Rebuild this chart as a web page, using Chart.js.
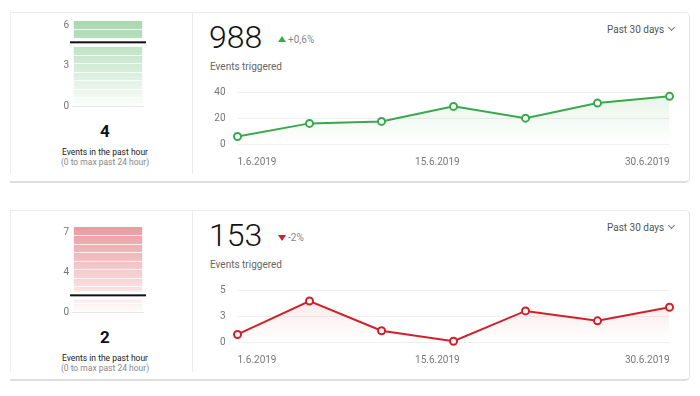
<!DOCTYPE html>
<html>
<head>
<meta charset="utf-8">
<script src="https://cdn.jsdelivr.net/npm/chart.js@4.4.1/dist/chart.umd.min.js"></script>
<style>
  body { margin:0; width:700px; height:396px; background:#fff; position:relative; overflow:hidden;
         font-family:Roboto, "Noto Sans", sans-serif; color:#222; }
  .card { position:absolute; left:10px; width:680px; height:171px; box-sizing:border-box;
          border-top:1px solid #ececec; border-right:1px solid #e4e4e4; border-bottom:2px solid #dedede;
          border-radius:0 5px 5px 0; }
  .vline { position:absolute; width:1px; height:162px; background:#ececec; }
  .now { position:absolute; left:10px; width:190px; text-align:center; font-size:17px; font-weight:700;
         line-height:20px; color:#111; }
  .cap { position:absolute; left:10px; width:190px; text-align:center; font-size:8.5px; line-height:10px;
         white-space:nowrap; }
  .total { position:absolute; left:209px; font-size:32px; font-weight:300; line-height:36px; color:#111; }
  .tri { position:absolute; width:0; height:0; border-left:4px solid transparent; border-right:4px solid transparent; }
  .delta { position:absolute; font-size:10px; line-height:12px; color:#888; }
  .sub { position:absolute; left:210px; font-size:10px; line-height:12px; color:#666; }
  .range { position:absolute; left:607px; font-size:10px; line-height:12px; color:#555; white-space:nowrap; }
  .chev { display:inline-block; width:4px; height:4px; border-right:1px solid #777; border-bottom:1px solid #777;
          transform:rotate(45deg); margin-left:5px; position:relative; top:-3px; }
  canvas { position:absolute; }
</style>
</head>
<body>
<script>
// ==== данные графиков ====
const dayLabels = ["1.6.2019", "", "", "15.6.2019", "", "", "30.6.2019"];
const eventsGreen = [6, 16, 17.5, 29, 20, 31.5, 36.7];
const eventsRed = [0.75, 3.95, 1.1, 0.1, 3.0, 2.05, 3.35];
const lineMax = [40, 5];
const totals = ["988", "153"];
const changes = ["+0,6%", "-2%"];
const hourNow = [4, 2];
const hourTickMax = [6, 7];
const hourPeak = [6.3, 7.45];
const hourMarker = [4.72, 1.46];

const series = [eventsGreen, eventsRed];
const palette = [[58, 168, 76], [209, 32, 42]];
const cardTop = [12, 210];      // верх карточки
const leftShift = [0, 206];     // смещение левой панели
const rightShift = [0, 198];    // смещение правой панели

Chart.defaults.font.family = "Roboto";

function rgba(rgb, a) {
  return `rgba(${rgb.join(",")},${a})`;
}

// Вертикальный градиент по области графика
function gradient(chart, rgb, a0, a1) {
  const area = chart.chartArea;
  if (!area) return rgba(rgb, a0);
  const g = chart.ctx.createLinearGradient(0, area.top, 0, area.bottom);
  g.addColorStop(0, rgba(rgb, a0));
  g.addColorStop(1, rgba(rgb, a1));
  return g;
}

function addEl(cls, css, text) {
  const el = document.createElement("div");
  el.className = cls;
  Object.assign(el.style, css);
  if (text !== undefined) el.textContent = text;
  document.body.appendChild(el);
  return el;
}

function addCanvas(left, top, w, h) {
  const c = document.createElement("canvas");
  c.width = w;
  c.height = h;
  c.style.left = left + "px";
  c.style.top = top + "px";
  document.body.appendChild(c);
  return c;
}

// Полоски на столбике и чёрная отметка текущего значения
function hourPlugin(i) {
  return {
    id: "hourMarker",
    afterDatasetsDraw(chart) {
      const ctx = chart.ctx;
      const bar = chart.getDatasetMeta(0).data[0];
      const left = bar.x - bar.width / 2;
      const h = bar.base - bar.y;
      const area = chart.chartArea;
      ctx.save();
      ctx.fillStyle = "rgba(255,255,255,0.8)";
      for (let k = 1; k < 10; k++) {
        ctx.fillRect(left, Math.round(bar.y + h * k / 10), bar.width, 1);
      }
      const y = chart.scales.y.getPixelForValue(hourMarker[i]);
      ctx.fillStyle = "#fff";
      ctx.fillRect(left, y - 4, bar.width, 8);
      ctx.fillStyle = "#111";
      ctx.fillRect(area.left - 2, y - 1, area.right - area.left + 4, 2);
      ctx.restore();
    }
  };
}

function hourChart(i) {
  const rgb = palette[i];
  const canvas = addCanvas(40, 10 + leftShift[i], 120, 105);
  return new Chart(canvas, {
    type: "bar",
    data: {
      labels: [""],
      datasets: [{
        data: [hourPeak[i]],
        backgroundColor: ctx => gradient(ctx.chart, rgb, 0.45, 0.02),
        barPercentage: 0.95,
        categoryPercentage: 1
      }]
    },
    options: {
      responsive: false,
      animation: false,
      layout: { padding: { top: 11, right: 16, bottom: 4.3 } },
      plugins: { legend: { display: false }, tooltip: { enabled: false } },
      scales: {
        x: { display: false },
        y: {
          min: 0,
          max: hourPeak[i],
          afterBuildTicks: s => {
            const m = hourTickMax[i];
            s.ticks = [0, m / 2, m].map(v => ({ value: v }));
          },
          afterFit: s => { s.width = 32; },
          ticks: { padding: 3, color: "#777", font: { size: 10 }, callback: v => Math.round(v) },
          grid: { drawTicks: false, color: c => (c.tick && c.tick.value === 0 ? "#e6e6e6" : "transparent") },
          border: { display: false }
        }
      }
    },
    plugins: [hourPlugin(i)]
  });
}

// Подписи дат: средняя подпись чуть левее центра, как в оригинале
function dayTick(value, index) {
  const label = dayLabels[index];
  if (!label || index === 0 || index === dayLabels.length - 1) return label;
  return label + "\u00a0".repeat(13);
}

function trendChart(i) {
  const rgb = palette[i];
  const canvas = addCanvas(200, 81 + rightShift[i], 490, 92);
  return new Chart(canvas, {
    type: "line",
    data: {
      labels: dayLabels,
      datasets: [{
        data: series[i],
        borderColor: rgba(rgb, 1),
        borderWidth: 2,
        fill: "origin",
        backgroundColor: ctx => gradient(ctx.chart, rgb, 0.12, 0),
        pointRadius: 3.5,
        pointBorderWidth: 2,
        pointBackgroundColor: "#fff",
        pointBorderColor: rgba(rgb, 1),
        tension: 0,
        clip: false
      }]
    },
    options: {
      responsive: false,
      animation: false,
      layout: { padding: { top: 11, right: 20.5 } },
      plugins: { legend: { display: false }, tooltip: { enabled: false } },
      scales: {
        x: {
          grid: { display: false, drawTicks: false },
          border: { display: false },
          afterFit: s => { s.height = 28.7; },
          ticks: { autoSkip: false, maxRotation: 0, align: "inner", padding: 12, color: "#777",
                   font: { size: 10 }, callback: dayTick }
        },
        y: {
          min: 0,
          max: lineMax[i],
          afterBuildTicks: s => {
            const m = lineMax[i];
            s.ticks = [0, m / 2, m].map(v => ({ value: v }));
          },
          afterFit: s => { s.width = 37.5; },
          // отступ подписей через невидимые засечки, чтобы не сжимать область графика
          ticks: { padding: 0, color: "#777", font: { size: 10 }, callback: v => Math.round(v) },
          grid: { drawTicks: true, tickLength: 12, tickColor: "transparent", color: "#efefef" },
          border: { display: false }
        }
      }
    }
  });
}

// Собираем обе карточки
[0, 1].forEach(i => {
  const top = cardTop[i];
  const ls = leftShift[i];
  const rs = rightShift[i];

  addEl("card", { top: top + "px" });
  addEl("vline", { left: "10px", top: top + "px" });
  addEl("vline", { left: "192px", top: top + "px" });

  addEl("now", { top: (121 + ls) + "px" }, String(hourNow[i]));
  addEl("cap", { top: (147 + ls) + "px", color: "#222" }, "Events in the past hour");
  addEl("cap", { top: (157 + ls) + "px", color: "#888" }, "(0 to max past 24 hour)");

  addEl("total", { top: (19 + rs) + "px" }, totals[i]);
  const up = i === 0;
  addEl("tri", up
    ? { left: "278px", top: (36 + rs) + "px", borderBottom: "6px solid " + rgba(palette[i], 1) }
    : { left: "278px", top: (37 + rs) + "px", borderTop: "6px solid " + rgba(palette[i], 1) });
  addEl("delta", { left: "288px", top: (34 + rs) + "px" }, changes[i]);
  addEl("sub", { top: (61 + rs) + "px" }, "Events triggered");

  const r = addEl("range", { top: (24 + rs) + "px" }, "Past 30 days");
  const chev = document.createElement("span");
  chev.className = "chev";
  r.appendChild(chev);

  hourChart(i);
  trendChart(i);
});
</script>
</body>
</html>
